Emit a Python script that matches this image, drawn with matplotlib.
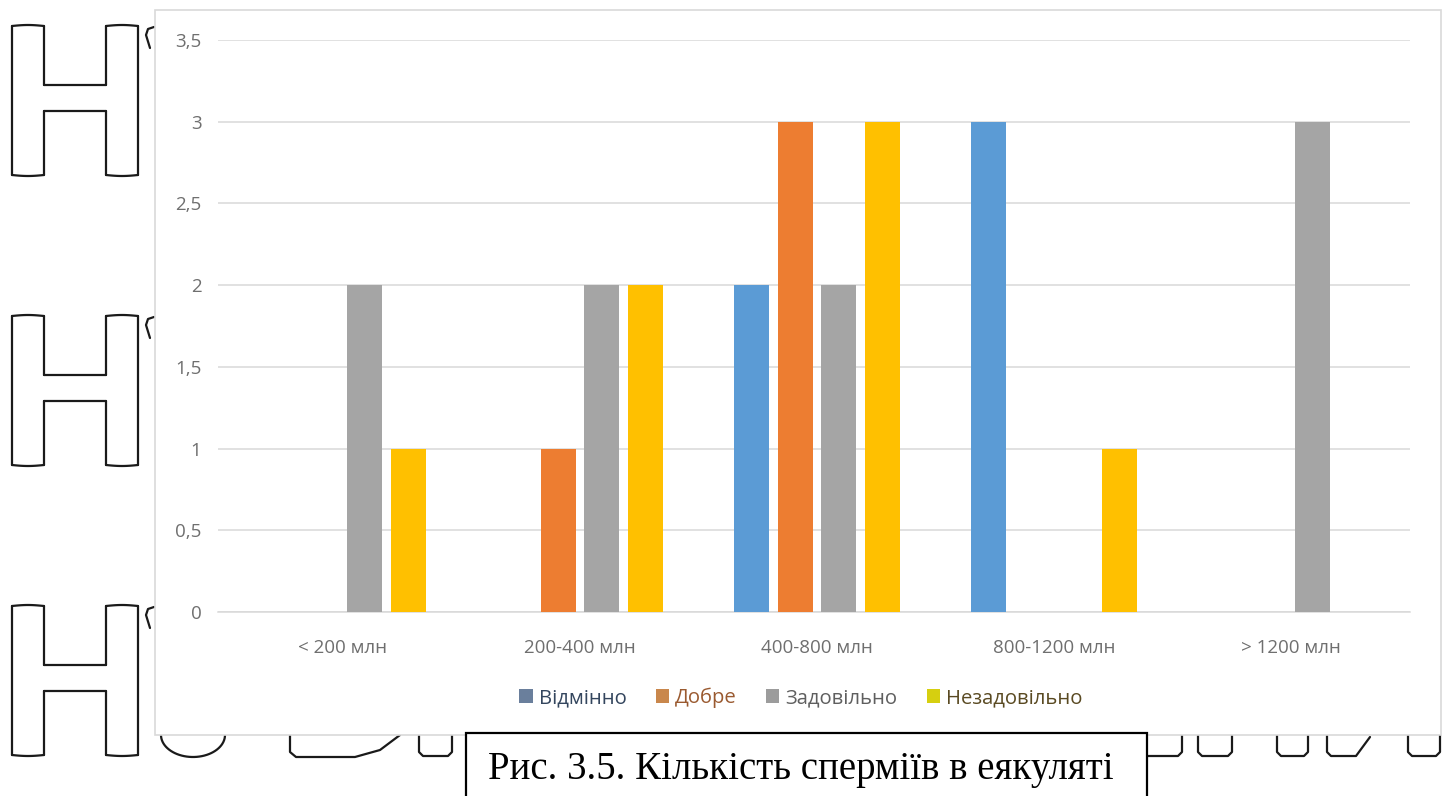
import matplotlib
matplotlib.use("Agg")
import matplotlib.pyplot as plt
from matplotlib.patches import Rectangle, Patch
import numpy as np

# ---- data ----
categories = ["< 200 млн", "200-400 млн", "400-800 млн", "800-1200 млн", "> 1200 млн"]
series_names = ["Відмінно", "Добре", "Задовільно", "Незадовільно"]
vidminno = [0, 0, 2, 3, 0]
dobre = [0, 1, 3, 0, 0]
zadovilno = [2, 2, 2, 0, 3]
nezadovilno = [1, 2, 3, 1, 0]
y_ticks = [0, 0.5, 1, 1.5, 2, 2.5, 3, 3.5]
y_tick_labels = ["0", "0,5", "1", "1,5", "2", "2,5", "3", "3,5"]
caption = "Рис. 3.5. Кількість сперміїв в еякуляті"

bar_colors = ["#5B9BD5", "#ED7D31", "#A5A5A5", "#FFC000"]
legend_marker_colors = ["#6a7f9c", "#c9874c", "#9c9c9c", "#d6cf10"]
legend_text_colors = ["#34465e", "#9a5a30", "#5f5f5f", "#5a4a22"]

W, H = 1451, 796
fig = plt.figure(figsize=(W / 100, H / 100), dpi=100)
fig.patch.set_facecolor("white")

# ---- background page outlines (pixel coordinates) ----
bg = fig.add_axes([0, 0, 1, 1], zorder=0)
bg.set_xlim(0, W)
bg.set_ylim(H, 0)
bg.axis("off")
lk = dict(color="#1a1a1a", lw=1.6, solid_capstyle="round")


def outline_h(top):
    xo_l, xi_l, xi_r, xo_r = 12, 44, 106, 138
    bot = top + 151
    cb_t, cb_b = top + 60, top + 86
    for xs in (xo_l, xo_r):
        bg.plot([xs, xs], [top + 1, bot - 1], **lk)
    for xs in (xi_l, xi_r):
        bg.plot([xs, xs], [top + 1, cb_t], **lk)
        bg.plot([xs, xs], [cb_b, bot - 1], **lk)
    bg.plot([xi_l, xi_r], [cb_t, cb_t], **lk)
    bg.plot([xi_l, xi_r], [cb_b, cb_b], **lk)
    for a, b in [(xo_l, xi_l), (xi_r, xo_r)]:
        xs = np.linspace(a, b, 20)
        tt = (xs - a) / (b - a)
        bg.plot(xs, top + 1 - 1.0 * np.sin(np.pi * tt), **lk)
        bg.plot(xs, bot - 1 + 1.0 * np.sin(np.pi * tt), **lk)
    bg.plot([150, 146, 148, 154], [top + 23, top + 10, top + 4, top + 2], **lk)


for top in (25, 315, 605):
    outline_h(top)

# lower row of letter fragments
t = np.linspace(np.pi, 2 * np.pi, 40)
bg.plot(193 + 32 * np.cos(t), 735 - 22 * np.sin(t), **lk)
bg.plot([290, 290, 296, 355, 380, 400], [735, 752, 757, 757, 750, 735], **lk)
for a, b in [(419, 452), (1198, 1232), (1277, 1308), (1408, 1440)]:
    bg.plot([a, a, a + 4, b - 4, b, b], [735, 752, 756, 756, 752, 735], **lk)
bg.plot([1148, 1178, 1182, 1182], [756, 756, 752, 735], **lk)
bg.plot([1327, 1327, 1331, 1356, 1370], [735, 752, 756, 756, 737], **lk)

# chart frame
bg.add_patch(Rectangle((155, 10), 1286, 725, facecolor="white",
                       edgecolor="#d9d9d9", lw=1.2, zorder=5))

# ---- chart ----
px_left, px_right, px_top, px_bot = 218, 1410, 40, 612
ax = fig.add_axes([px_left / W, (H - px_bot) / H,
                   (px_right - px_left) / W, (px_bot - px_top) / H], zorder=1)
ax.patch.set_alpha(0)

x = np.arange(len(categories))
bar_w = 0.148
step = 0.1835
series = [vidminno, dobre, zadovilno, nezadovilno]
for i, (vals, c) in enumerate(zip(series, bar_colors)):
    ax.bar(x + (i - 1.5) * step, vals, width=bar_w, color=c, zorder=3)

ax.set_xlim(2 - (817 - px_left) / 237, 2 + (px_right - 817) / 237)
ax.set_ylim(0, 3.5)
ax.set_yticks(y_ticks)
ax.set_yticklabels(y_tick_labels)
ax.set_xticks(x)
ax.set_xticklabels(categories)
ax.yaxis.grid(True, color="#d9d9d9", lw=1.1, zorder=0)
ax.set_axisbelow(True)
for s in ["top", "right", "left"]:
    ax.spines[s].set_visible(False)
ax.spines["bottom"].set_color("#d9d9d9")
ax.spines["bottom"].set_linewidth(1.1)
ax.tick_params(axis="both", length=0, colors="#6f6f6f", labelsize=13.5)
ax.tick_params(axis="y", pad=12)
ax.tick_params(axis="x", pad=19.5)
for lab in ax.get_xticklabels() + ax.get_yticklabels():
    lab.set_fontfamily("Open Sans")

handles = [Patch(facecolor=c, edgecolor="none") for c in legend_marker_colors]
leg = fig.legend(handles, series_names, loc="center",
                 bbox_to_anchor=(801 / W, 1 - 698 / H), ncol=4, frameon=False,
                 handlelength=0.65, handleheight=0.65, handletextpad=0.3,
                 columnspacing=1.45, prop={"family": "Open Sans", "size": 14.6})
for txt, c in zip(leg.get_texts(), legend_text_colors):
    txt.set_color(c)

# ---- caption box ----
top_ax = fig.add_axes([0, 0, 1, 1], zorder=3)
top_ax.set_xlim(0, W)
top_ax.set_ylim(H, 0)
top_ax.axis("off")
top_ax.patch.set_alpha(0)
top_ax.add_patch(Rectangle((466, 733), 681, 80, facecolor="white",
                           edgecolor="black", lw=1.6))
top_ax.text(801, 769, caption, ha="center", va="center",
            fontsize=28, family="Liberation Serif", color="black")

fig.savefig("out.png", dpi=100, facecolor="white")
